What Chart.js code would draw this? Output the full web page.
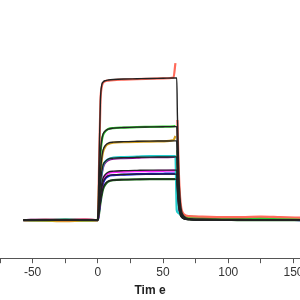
<!DOCTYPE html>
<html>
<head>
<meta charset="utf-8">
<script src="https://cdn.jsdelivr.net/npm/chart.js@4/dist/chart.umd.min.js"></script>
<style>
  html, body { margin: 0; padding: 0; background: #fff; }
  #wrap { width: 300px; height: 300px; }
</style>
</head>
<body>
<div id="wrap"><canvas id="sensorgram"></canvas></div>
<script>
// time points (s)
const times = [-57, -40, -25, -10, 0, 1, 2, 3, 4, 6, 8, 12, 20, 30, 40, 50, 58, 59.5, 60.5,
  61, 62, 63, 64, 66, 70, 80, 95, 110, 125, 140, 156];

// measured responses
const redData = [0, 0.5, 0, 0.5, 0, 58, 118, 133, 137, 139, 139.5, 140, 140.5, 141, 141.3, 141.6, 142.5, 157, null,
  100, 52, 24, 12, 6, 4, 3.5, 3, 3, 3.5, 3, 2.5];
const greenData = [0, 0, 0.5, 0, 0, 38, 66, 79, 85, 89, 91, 92, 92.5, 93, 93.2, 93.5, 93.8, 94, null,
  70, 36, 17, 9, 5, 3.5, 3, 2.5, 2.5, 2, 2, 2];
const orangeData = [0, -0.5, -1, -0.5, 0, 24, 46, 60, 68, 74, 76, 77.5, 78, 78.3, 78.5, 78.8, 80, 84, null,
  58, 30, 14, 8, 4.5, 3, 2.5, 2, 2, 2, 1.5, 1.5];
const purpleData = [0, 0, 0, 0, 0, 18, 35, 46, 53, 58, 60, 61.5, 62, 62.5, 63, 63, 63.2, 63.3, null,
  46, 24, 11, 6, 3.5, 2.5, 2, 2, 1.5, 1.5, 1.5, 1];
const cyanData = [0, 0.5, 0, 0, 0, 20, 37, 48, 55, 59, 61, 62.5, 63, 63.5, 64, 64, 64, 64, 10,
  8, 7, 6, 4.5, 3, 2.5, 2, 2, 2, 1.5, 1.5, 1.5];
const magentaData = [0, 0.5, 0, 0.5, 0, 12, 25, 34, 40, 45, 47, 48, 48.5, 49, 49, 49.3, 49.5, 49.5, null,
  36, 19, 9, 5, 3, 2.5, 2, 2, 1.5, 1.5, 1.5, 1];
const blueData = [0, 0, 0.5, 0, 0, 10, 22, 31, 37, 42, 44, 45, 45.5, 46, 46.2, 46.4, 46.5, 46.5, null,
  33, 17, 8, 4.5, 2.5, 1.5, 1, 1, 0.5, 0.5, 0.5, 0];
const darkGreenData = [0, 0, 0, 0.5, 0, 7, 17, 25, 31, 36, 38.5, 40, 40.5, 40.8, 41, 41, 41, 41, null,
  29, 15, 7, 4, 2, 1, 0.5, 0.5, 0, 0, 0, 0];

// global fit curves
const fitTop = [0, 0, 0, 0, 0, 62, 120, 135, 138, 139.5, 140, 140.5, 141, 141.3, 141.6, 141.8, 142, 142, 142,
  105, 50, 22, 10, 4, 1.5, 1, 0.8, 0.6, 0.5, 0.4, 0.3];
const fitGreen = [0, 0, 0, 0, 0, 40, 68, 80, 86, 89.5, 91, 92, 92.6, 93, 93.2, 93.4, 93.5, 93.5, 93.5,
  68, 33, 15, 7, 2.8, 1, 0.7, 0.5, 0.4, 0.3, 0.3, 0.2];
const fitOrange = [0, 0, 0, 0, 0, 26, 48, 62, 70, 75, 77, 78, 78.5, 78.8, 79, 79.1, 79.2, 79.2, 79.2,
  57, 28, 13, 6, 2.4, 0.9, 0.6, 0.5, 0.4, 0.3, 0.3, 0.2];
const fitPurple = [0, 0, 0, 0, 0, 20, 37, 48, 55, 59, 61, 62, 62.5, 62.8, 63, 63.1, 63.2, 63.2, 63.2,
  45, 22, 10, 5, 2, 0.8, 0.5, 0.4, 0.3, 0.3, 0.2, 0.2];
const fitMagenta = [0, 0, 0, 0, 0, 14, 27, 36, 42, 46, 48, 49, 49.5, 49.8, 50, 50, 50, 50, 50,
  36, 18, 8, 4, 1.6, 0.6, 0.4, 0.3, 0.3, 0.2, 0.2, 0.2];
const fitBlue = [0, 0, 0, 0, 0, 11, 23, 32, 38, 42.5, 44.5, 45.3, 45.7, 46, 46, 46, 46, 46, 46,
  33, 16, 7.5, 3.7, 1.5, 0.6, 0.4, 0.3, 0.2, 0.2, 0.2, 0.1];
const fitDarkGreen = [0, 0, 0, 0, 0, 8, 18, 26, 32, 37, 39, 40, 40.5, 40.8, 41, 41, 41, 41, 41,
  29, 14, 6.5, 3.3, 1.3, 0.5, 0.3, 0.2, 0.2, 0.1, 0.1, 0.1];

const measured = [
  [redData, "#ff6a5a"],
  [greenData, "#2ecc2e"],
  [orangeData, "#d4a020"],
  [cyanData, "#22cccc"],
  [purpleData, "#8b008b"],
  [magentaData, "#ff22ff"],
  [blueData, "#1515dd"],
  [darkGreenData, "#1a6b1a"],
];
const fits = [fitTop, fitGreen, fitOrange, fitPurple, fitMagenta, fitBlue, fitDarkGreen];

function toPoints(vals) {
  return times.map((t, i) => ({ x: t, y: vals[i] }));
}

const datasets = [];
fits.forEach((f) => {
  datasets.push({
    data: toPoints(f),
    borderColor: "#222",
    borderWidth: 1.4,
    order: 0,
  });
});
measured.forEach(([vals, color]) => {
  datasets.push({
    data: toPoints(vals),
    borderColor: color,
    borderWidth: 2.2,
    order: 1,
  });
});

var ctx = document.getElementById("sensorgram").getContext("2d");
var chart = new Chart(ctx, {
  type: "line",
  data: { datasets: datasets },
  options: {
    animation: false,
    responsive: true,
    maintainAspectRatio: false,
    layout: { padding: 0 },
    elements: {
      point: { radius: 0 },
      line: { cubicInterpolationMode: "monotone", fill: false },
    },
    spanGaps: false,
    plugins: {
      legend: { display: false },
      tooltip: { enabled: false },
    },
    scales: {
      x: {
        type: "linear",
        min: -75,
        max: 155,
        afterFit: (scale) => {
          scale.paddingLeft = 0;
          scale.paddingRight = 0;
        },
        border: { display: true, color: "#555", width: 1 },
        grid: { drawOnChartArea: false, tickLength: 5, color: "#555" },
        ticks: {
          stepSize: 25,
          includeBounds: false,
          autoSkip: false,
          maxRotation: 0,
          padding: 2,
          color: "#333",
          font: { family: "Liberation Sans", size: 12 },
          callback: (v) => (v % 50 === 0 ? v : ""),
        },
        title: {
          display: true,
          text: "Tim e",
          color: "#222",
          padding: { top: 2, bottom: 2 },
          font: { family: "Liberation Sans", size: 12, weight: "bold" },
        },
      },
      y: {
        display: false,
        min: -38,
        max: 220,
      },
    },
  },
});
</script>
</body>
</html>
